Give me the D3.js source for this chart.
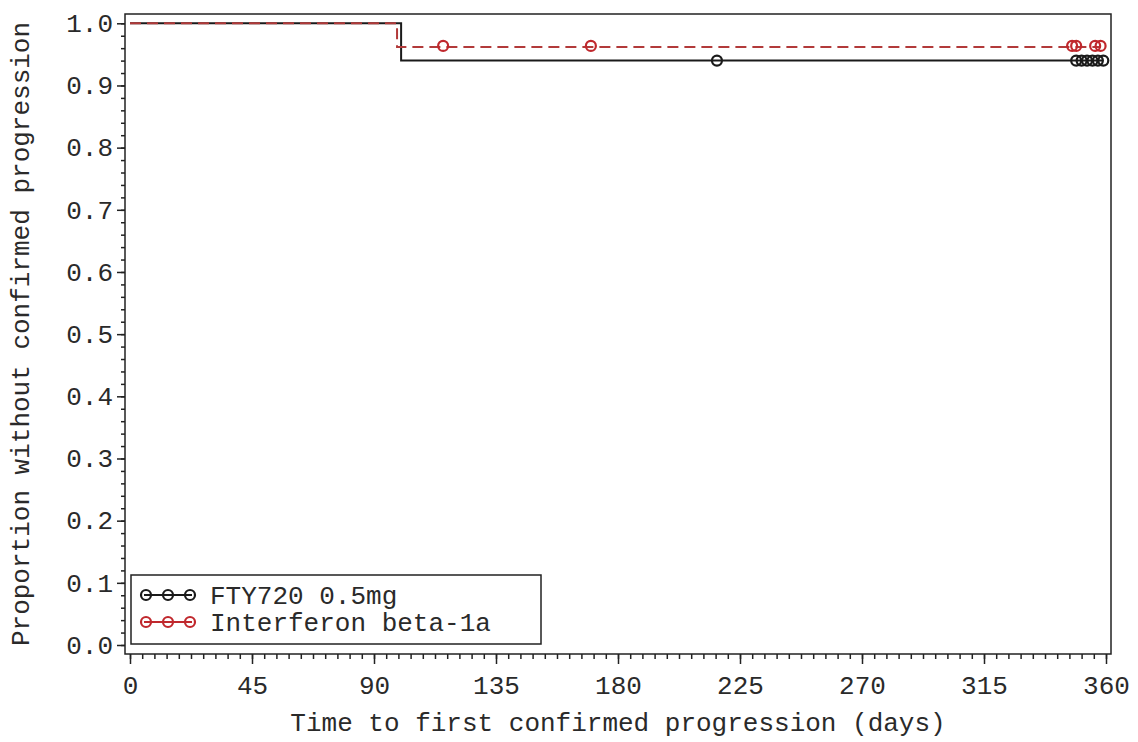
<!DOCTYPE html>
<head>
  <meta charset="utf-8">
  <script src="https://d3js.org/d3.v7.min.js"></script>
  <style>
    body { margin:0; background:#fff; }

    text {
      font-family: "Liberation Mono", "Courier New", monospace;
      font-size: 26px;
      fill: #2a2a2a;
    }

    .frame {
      fill: none;
      stroke: #222;
      stroke-width: 1.5;
    }

    .axis path { display: none; }
    .axis line { stroke: #222; stroke-width: 1.5; }

    .km-fty { fill: none; stroke: #1a1a1a; stroke-width: 2; }
    .km-ifn { fill: none; stroke: #b23a3a; stroke-width: 2; stroke-dasharray: 11,6; }

    .cens-fty { fill: none; stroke: #1a1a1a; stroke-width: 2.2; }
    .cens-ifn { fill: none; stroke: #c0282d; stroke-width: 2.2; }
  </style>
</head>

<body>
  <script>
    // step data
    var ftyTimes = [0, 100, 359];
    var ftySurv  = [1.0, 0.940, 0.940];
    var ftyCensored = [216.5, 349, 351, 353, 355, 357, 359];

    var ifnTimes = [0, 98.5, 358];
    var ifnSurv  = [1.0, 0.962, 0.962];
    var ifnCensored = [115.5, 170, 347.5, 349, 356, 358];

    var xTicks = [0, 45, 90, 135, 180, 225, 270, 315, 360];
    var yTicks = [0, 0.1, 0.2, 0.3, 0.4, 0.5, 0.6, 0.7, 0.8, 0.9, 1.0];

    var legendLabels = ["FTY720 0.5mg", "Interferon beta-1a"];

    var width = 1138, height = 742;

    var frame = {left: 125, top: 14, right: 1111, bottom: 654};

    var svg = d3.select("body").append("svg")
        .attr("width", width)
        .attr("height", height);

    var x = d3.scaleLinear()
        .domain([0, 360])
        .range([130, 1106]);

    var y = d3.scaleLinear()
        .domain([0, 1])
        .range([645, 23.3]);

    function stepData(times, surv) {
      return times.map(function(t, i) { return {t: t, s: surv[i]}; });
    }

    function survAt(times, surv, t) {
      var s = surv[0];
      times.forEach(function(tt, i) { if (tt <= t) s = surv[i]; });
      return s;
    }

    var line = d3.line()
        .curve(d3.curveStepAfter)
        .x(function(d) { return x(d.t); })
        .y(function(d) { return y(d.s); });

    // axes with minor ticks
    var xMinor = d3.range(0, 360.01, 4.5);
    var yMinor = d3.range(0, 1.001, 0.02);

    svg.append("g")
        .attr("class", "axis")
        .attr("transform", "translate(0," + frame.bottom + ")")
        .call(d3.axisBottom(x).tickValues(xMinor).tickSize(5).tickFormat(""));

    svg.append("g")
        .attr("class", "axis")
        .attr("transform", "translate(0," + frame.bottom + ")")
        .call(d3.axisBottom(x).tickValues(xTicks).tickSize(10).tickPadding(7).tickFormat(d3.format("d")))
      .selectAll("text")
        .attr("dy", "0.9em");

    svg.append("g")
        .attr("class", "axis")
        .attr("transform", "translate(" + frame.left + ",0)")
        .call(d3.axisLeft(y).tickValues(yMinor).tickSize(4).tickFormat(""));

    svg.append("g")
        .attr("class", "axis")
        .attr("transform", "translate(" + frame.left + ",0)")
        .call(d3.axisLeft(y).tickValues(yTicks).tickSize(8).tickPadding(4).tickFormat(d3.format(".1f")));

    svg.append("rect")
        .attr("class", "frame")
        .attr("x", frame.left)
        .attr("y", frame.top)
        .attr("width", frame.right - frame.left)
        .attr("height", frame.bottom - frame.top);

    // curves
    svg.append("path")
        .datum(stepData(ftyTimes, ftySurv))
        .attr("class", "km-fty")
        .attr("d", line);

    svg.append("path")
        .datum(stepData(ifnTimes, ifnSurv))
        .attr("class", "km-ifn")
        .attr("d", line);

    svg.append("g").selectAll("circle")
        .data(ftyCensored)
      .enter().append("circle")
        .attr("class", "cens-fty")
        .attr("cx", function(d) { return x(d); })
        .attr("cy", function(d) { return y(survAt(ftyTimes, ftySurv, d)); })
        .attr("r", 5);

    svg.append("g").selectAll("circle")
        .data(ifnCensored)
      .enter().append("circle")
        .attr("class", "cens-ifn")
        .attr("cx", function(d) { return x(d); })
        .attr("cy", function(d) { return y(survAt(ifnTimes, ifnSurv, d)) - 1; })
        .attr("r", 5);

    // legend
    var legend = svg.append("g");

    legend.append("rect")
        .attr("class", "frame")
        .attr("x", 131)
        .attr("y", 575)
        .attr("width", 410)
        .attr("height", 69);

    var legendClasses = [["km-fty", "cens-fty"], ["km-ifn", "cens-ifn"]];

    legendLabels.forEach(function(label, i) {
      var ly = 595 + i * 27;
      var g = legend.append("g");
      g.append("line")
          .attr("x1", 144).attr("x2", 192)
          .attr("y1", ly).attr("y2", ly)
          .attr("stroke", i === 0 ? "#1a1a1a" : "#c0282d")
          .attr("stroke-width", 2);
      g.selectAll("circle")
          .data([146, 168, 190])
        .enter().append("circle")
          .attr("class", legendClasses[i][1])
          .attr("cx", function(d) { return d; })
          .attr("cy", ly)
          .attr("r", 5);
      g.append("text")
          .attr("x", 210)
          .attr("y", ly)
          .attr("dy", "0.35em")
          .text(label);
    });

    // axis titles
    svg.append("text")
        .attr("x", (frame.left + frame.right) / 2)
        .attr("y", 731)
        .attr("text-anchor", "middle")
        .text("Time to first confirmed progression (days)");

    svg.append("text")
        .attr("transform", "translate(29," + (frame.top + frame.bottom) / 2 + ") rotate(-90)")
        .attr("text-anchor", "middle")
        .text("Proportion without confirmed progression");
  </script>
</body>
